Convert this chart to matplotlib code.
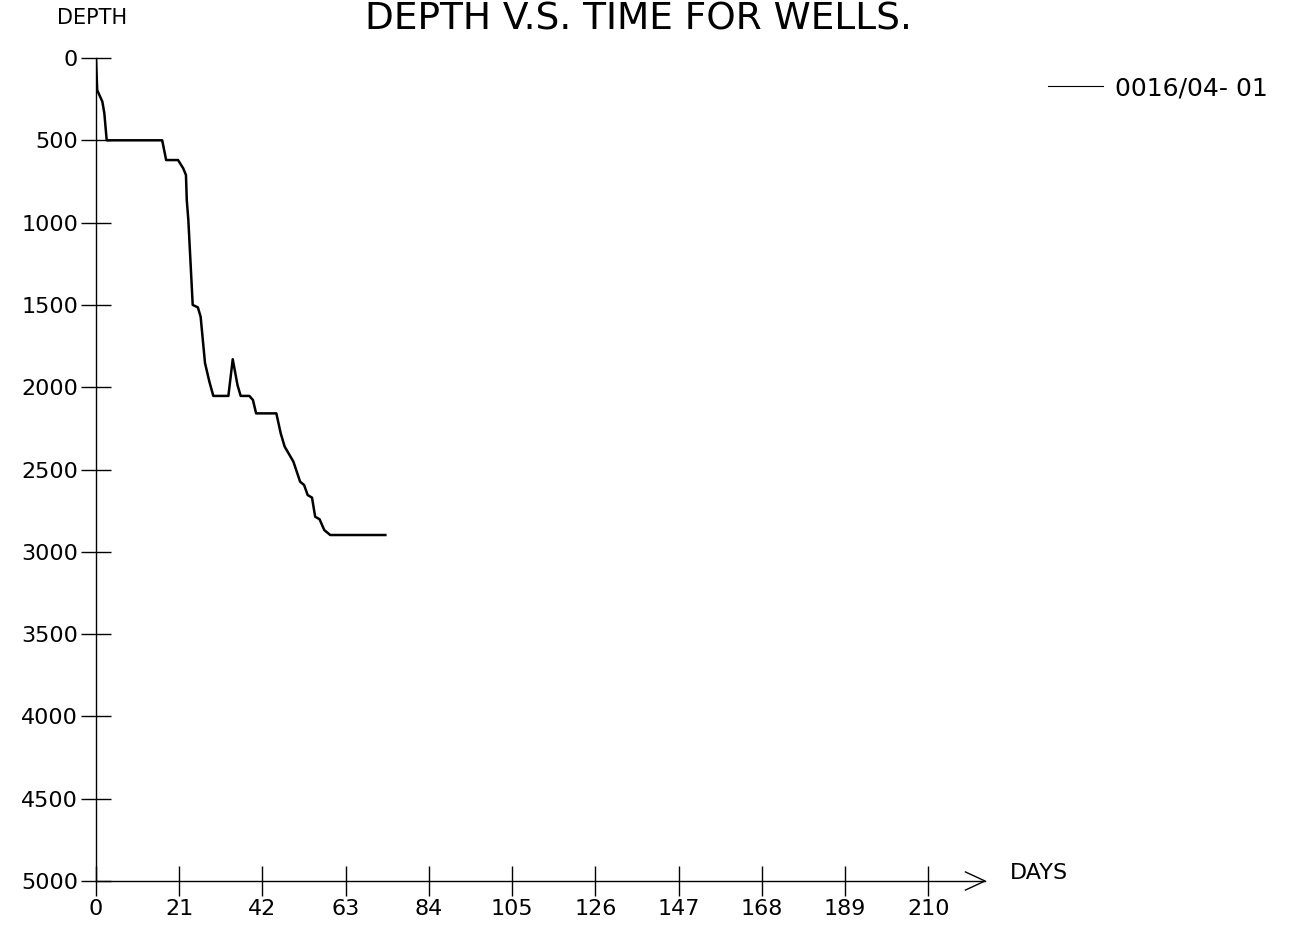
import matplotlib
matplotlib.use("Agg")
import matplotlib.pyplot as plt

# well 0016/04-01: depth against elapsed days
days = [0, 0.3, 1.6, 2.1, 2.7, 16.7, 17.7, 20.7, 22.0, 22.7, 22.9, 23.3, 24.4,
        25.7, 26.4, 27.5, 28.6, 29.6, 33.4, 34.5, 35.7, 36.5, 38.7, 39.6, 40.4,
        45.5, 46.6, 47.6, 49.8, 51.5, 52.5, 53.4, 54.5, 55.3, 56.4, 57.6, 59.1, 73.0]
depth = [0, 195, 265, 335, 500, 500, 620, 620, 670, 711, 863, 985, 1500,
         1515, 1572, 1853, 1966, 2053, 2053, 1830, 1987, 2053, 2053, 2078, 2159,
         2159, 2280, 2361, 2452, 2574, 2594, 2655, 2671, 2787, 2802, 2868, 2898, 2898]
well_name = "0016/04- 01"
x_ticks = [0, 21, 42, 63, 84, 105, 126, 147, 168, 189, 210]
y_ticks = [0, 500, 1000, 1500, 2000, 2500, 3000, 3500, 4000, 4500, 5000]

W, H = 1293, 926
fig = plt.figure(figsize=(W / 100, H / 100), dpi=100)
ax = fig.add_axes([96 / W, 1 - 881 / H, (985 - 96) / W, (881 - 58) / H])

line, = ax.plot(days, depth, color="black", lw=1.8, label=well_name)

ax.set_xlim(0, 224.3)
ax.set_ylim(5000, 0)
ax.set_xticks(x_ticks)
ax.set_yticks(y_ticks)
ax.tick_params(direction="inout", length=22, width=1.0, labelsize=16, pad=2)
for s in ("top", "right"):
    ax.spines[s].set_visible(False)
for s in ("left", "bottom"):
    ax.spines[s].set_linewidth(1.0)

# open arrow head at the end of the day axis
ax.plot([0.978, 1.0, 0.978], [0.011, 0.0, -0.011], transform=ax.transAxes,
        color="black", lw=1.0, clip_on=False)

fig.text(1010 / W, 1 - 873 / H, "DAYS", fontsize=16, va="center", ha="left")
fig.text(57 / W, 1 - 18 / H, "DEPTH", fontsize=15, va="center", ha="left")
fig.text(638 / W, 1 - 2 / H, "DEPTH V.S. TIME FOR WELLS.", fontsize=27,
         va="top", ha="center")

leg = fig.legend(loc="center left", bbox_to_anchor=(1025 / W, 1 - 88 / H),
                 frameon=False, fontsize=18, handlelength=2.2, handletextpad=0.5)
leg.get_lines()[0].set_linewidth(0.8)

fig.savefig("out.png", dpi=100)
